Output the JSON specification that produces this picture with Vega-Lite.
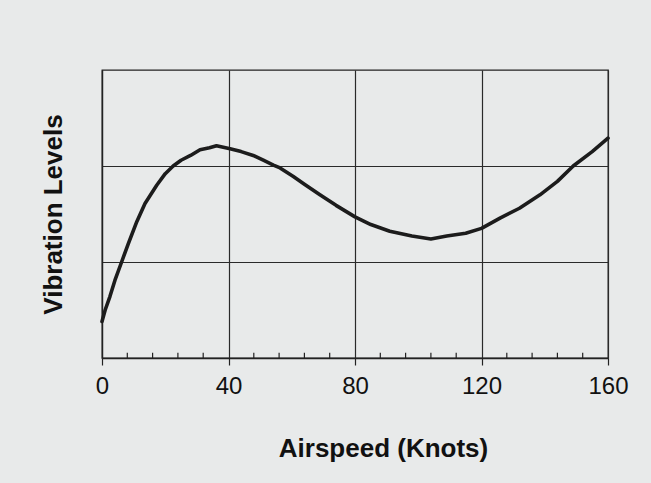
{
  "$schema": "https://vega.github.io/schema/vega-lite/v6.json",
  "width": 506,
  "height": 288,
  "autosize": "none",
  "padding": {"left": 102, "top": 70, "right": 43, "bottom": 125},
  "background": "#e8eaea",
  "config": {
    "font": "Liberation Sans",
    "view": {"stroke": "#222222", "strokeWidth": 1.3},
    "axis": {"domainColor": "#222222", "tickColor": "#222222", "gridColor": "#2a2a2a", "gridOpacity": 1, "gridWidth": 1.2, "labelColor": "#111111", "titleColor": "#111111"}
  },
  "datasets": {
    "curve": [
      {"airspeed": 0, "level": 0.38},
      {"airspeed": 1, "level": 0.5},
      {"airspeed": 2.5, "level": 0.64},
      {"airspeed": 4.1, "level": 0.81},
      {"airspeed": 6.2, "level": 1.0},
      {"airspeed": 8.3, "level": 1.19},
      {"airspeed": 11, "level": 1.42},
      {"airspeed": 13.6, "level": 1.61},
      {"airspeed": 17.3, "level": 1.8},
      {"airspeed": 20, "level": 1.92},
      {"airspeed": 22.5, "level": 2.0},
      {"airspeed": 25, "level": 2.06},
      {"airspeed": 28, "level": 2.11},
      {"airspeed": 31, "level": 2.17},
      {"airspeed": 34, "level": 2.19},
      {"airspeed": 36.2, "level": 2.21},
      {"airspeed": 40.5, "level": 2.18},
      {"airspeed": 44, "level": 2.15},
      {"airspeed": 47.8, "level": 2.11},
      {"airspeed": 51, "level": 2.06},
      {"airspeed": 54.2, "level": 2.01},
      {"airspeed": 56.3, "level": 1.98},
      {"airspeed": 60.5, "level": 1.89},
      {"airspeed": 64, "level": 1.81},
      {"airspeed": 68.9, "level": 1.7},
      {"airspeed": 74, "level": 1.59},
      {"airspeed": 80, "level": 1.47},
      {"airspeed": 85, "level": 1.39},
      {"airspeed": 91, "level": 1.32},
      {"airspeed": 98, "level": 1.27},
      {"airspeed": 104, "level": 1.24},
      {"airspeed": 109, "level": 1.27},
      {"airspeed": 115, "level": 1.3},
      {"airspeed": 120, "level": 1.35},
      {"airspeed": 126, "level": 1.46},
      {"airspeed": 132, "level": 1.56},
      {"airspeed": 138.5, "level": 1.7},
      {"airspeed": 144, "level": 1.84},
      {"airspeed": 149, "level": 2.0},
      {"airspeed": 155, "level": 2.15},
      {"airspeed": 160, "level": 2.29}
    ],
    "minor": [
      {"airspeed": 8}, {"airspeed": 16}, {"airspeed": 24}, {"airspeed": 32},
      {"airspeed": 48}, {"airspeed": 56}, {"airspeed": 64}, {"airspeed": 72},
      {"airspeed": 88}, {"airspeed": 96}, {"airspeed": 104}, {"airspeed": 112},
      {"airspeed": 128}, {"airspeed": 136}, {"airspeed": 144}, {"airspeed": 152}
    ]
  },
  "encoding": {
    "x": {
      "field": "airspeed",
      "type": "quantitative",
      "scale": {"domain": [0, 160], "nice": false},
      "axis": {
        "values": [0, 40, 80, 120, 160],
        "tickSize": 7,
        "tickWidth": 1.2,
        "domainWidth": 1.3,
        "labelFontSize": 24,
        "labelPadding": 9,
        "labelFlush": false,
        "grid": true,
        "title": "Airspeed (Knots)",
        "titleFontSize": 26,
        "titleFontWeight": "bold",
        "titlePadding": 37,
        "titleX": 281
      }
    }
  },
  "layer": [
    {
      "data": {"name": "minor"},
      "mark": {"type": "rule", "color": "#222222", "strokeWidth": 1.2},
      "encoding": {
        "y": {
          "datum": 0,
          "type": "quantitative",
          "scale": {"domain": [0, 3], "nice": false},
          "axis": {
            "values": [1, 2],
            "ticks": false,
            "labels": false,
            "grid": true,
            "domainWidth": 1.3,
            "title": "Vibration Levels",
            "titleFontSize": 26,
            "titleFontWeight": "bold",
            "titlePadding": 36
          }
        },
        "y2": {"datum": 0.055}
      }
    },
    {
      "data": {"name": "curve"},
      "mark": {"type": "line", "color": "#1c1c1c", "strokeWidth": 3.6, "strokeJoin": "round", "strokeCap": "round"},
      "encoding": {
        "y": {
          "field": "level",
          "type": "quantitative",
          "scale": {"domain": [0, 3], "nice": false},
          "axis": {
            "values": [1, 2],
            "ticks": false,
            "labels": false,
            "grid": true,
            "domainWidth": 1.3,
            "title": "Vibration Levels",
            "titleFontSize": 26,
            "titleFontWeight": "bold",
            "titlePadding": 36
          }
        }
      }
    }
  ]
}
